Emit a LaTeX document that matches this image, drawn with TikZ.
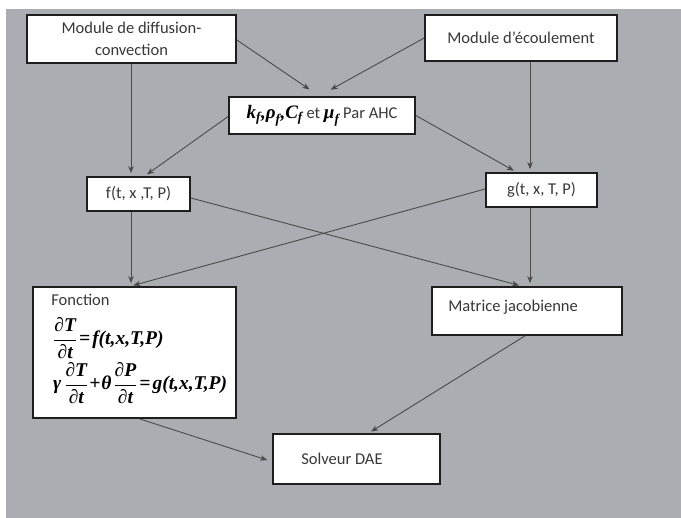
\RequirePackage{fix-cm}
\documentclass[tikz,border=0pt]{standalone}
\usepackage{amsmath}
\usepackage{fontspec}
\setmainfont{Carlito}
\newfontfamily\eqfont{Liberation Serif}
\usetikzlibrary{arrows.meta,positioning,calc}
\definecolor{sheet}{HTML}{AAADB1}
\definecolor{edge}{HTML}{1E1E1E}
\definecolor{wire}{HTML}{4A4A4A}
\definecolor{ink}{HTML}{383838}
\tikzset{
  modbox/.style={draw=edge, line width=1.7pt, fill=white, inner sep=4pt,
                 align=center, text=ink, font=\fontsize{16.5}{22}\selectfont},
  boxlabel/.style={inner sep=0pt, text=ink, font=\fontsize{16.5}{20}\selectfont},
  eqtext/.style={inner sep=0pt, anchor=west, text=black,
                 font=\eqfont\bfseries\itshape\fontsize{19.5}{22}\selectfont},
  arr/.style={-{Stealth[length=7pt,width=5.5pt,inset=2pt]}, line width=0.9pt,
              color=wire, shorten >=3pt}}
\newcommand{\pd}[1]{\frac{\hbox{∂#1}}{\hbox{∂t}}}

\begin{document}
\begin{tikzpicture}[x=1pt,y=-1pt]
  \useasboundingbox (0,0) rectangle (681,518);
  \fill[sheet] (6,9) rectangle (681,518);
  \coordinate (fcol) at (131,250);
  \coordinate (jcol) at (530,250);

  \node[modbox, minimum width=209pt, minimum height=48pt] (diff) at (131.5,39)
    {Module de diffusion-\\convection};
  \node[modbox, minimum width=192pt, minimum height=46pt] (ecou) at (521,38)
    {Module d’écoulement};
  \node[modbox, minimum width=186pt, minimum height=37pt, inner sep=2pt] (prop) at (322,115.5)
    {{\eqfont\bfseries\itshape\fontsize{19}{22}\selectfont\color{black}
      $\text{k}_{\text{f}}\text{,}\text{ρ}_{\text{f}}\text{,}\text{C}_{\text{f}}$}
     et {\eqfont\bfseries\itshape\fontsize{19}{22}\selectfont\color{black}$\text{μ}_{\text{f}}$}
     Par AHC};
  \node[modbox, minimum width=103pt, minimum height=34pt] (fxt) at (138.5,194)
    {f(t, x ,T, P)};
  \node[modbox, minimum width=111pt, minimum height=34pt] (gfun) at (541.5,190)
    {g(t, x, T, P)};
  \node[modbox, minimum width=203pt, minimum height=131pt] (fonc) at (134.5,352.5) {};
  \node[boxlabel, anchor=north west] (fonclab)
    at ($(fonc.north west)+(19,8)$) {Fonction};
  \node[eqtext] (eqa) at (53,338)
    {$\displaystyle\pd{T}$\kern2pt=\kern2pt f(t,x,T,P)};
  \node[eqtext] (eqb) at (53,383)
    {γ\kern3pt$\displaystyle\pd{T}$\kern1pt+\kern1ptθ\kern2pt$\displaystyle\pd{P}$\kern2pt=\kern2pt g(t,x,T,P)};
  \node[modbox, minimum width=190pt, minimum height=48pt] (mat) at (527,311) {};
  \node[boxlabel, anchor=west] (matlab) at ($(mat.west)+(17,-4)$) {Matrice jacobienne};
  \node[modbox, minimum width=167pt, minimum height=50pt] (solv) at (356.5,459) {};
  \node[boxlabel, anchor=west] (solvlab) at ($(solv.west)+(29,0)$) {Solveur DAE};

  \draw[arr] (diff.south -| fcol) -- (fxt.north -| fcol);
  \draw[arr] ($(diff.east)+(0,1)$) -- ($(prop.north)+(-10,-5)$);
  \draw[arr] ($(ecou.west)+(0,0)$) -- ($(prop.north)+(6,-5)$);
  \draw[arr] (ecou.south -| jcol) -- (gfun.north -| jcol);
  \draw[arr] ($(prop.west)+(0,1)$) -- ($(fxt.north)+(6,0)$);
  \draw[arr] ($(prop.east)+(0,0)$) -- ($(gfun.north)+(-25,0)$);
  \draw[arr] ($(fxt.east)+(0,4)$) -- ($(mat.north)+(-5,0)$);
  \draw[arr] ($(gfun.west)+(0,-1)$) -- ($(fonc.north)+(-4,0)$);
  \draw[arr] (fxt.south -| fcol) -- (fonc.north -| fcol);
  \draw[arr] (gfun.south -| jcol) -- (mat.north -| jcol);
  \draw[arr] ($(fonc.south)+(5,0)$) -- ($(solv.west)+(-2,2)$);
  \draw[arr] ($(mat.south)+(-2,0)$) -- ($(solv.north)+(12,0)$);
\end{tikzpicture}
\end{document}
